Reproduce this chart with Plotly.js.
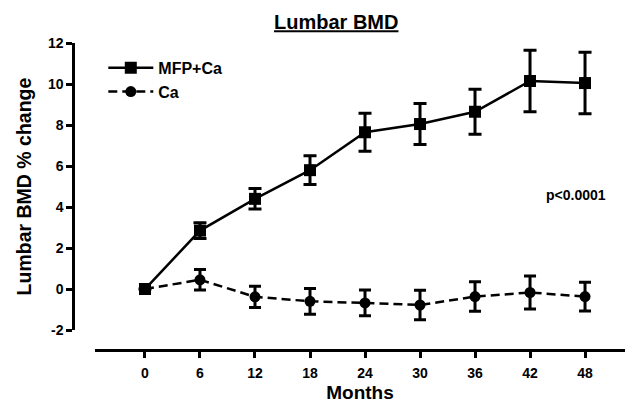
<!DOCTYPE html>
<html>
<head>
<meta charset="utf-8">
<script src="https://cdn.plot.ly/plotly-3.0.1.min.js"></script>
<style>html,body{margin:0;padding:0;background:#fff;}#chart{width:625px;height:405px;}</style>
</head>
<body>
<div id="chart"></div>
<script>
// Data
const months = [0, 6, 12, 18, 24, 30, 36, 42, 48];
const mfpCa = [0, 2.85, 4.4, 5.8, 7.65, 8.05, 8.65, 10.15, 10.05];
const mfpCaErr = [0, 0.38, 0.5, 0.7, 0.93, 1.0, 1.1, 1.5, 1.5];
const ca = [0, 0.45, -0.38, -0.6, -0.68, -0.78, -0.37, -0.17, -0.37];
const caErr = [0, 0.5, 0.52, 0.63, 0.63, 0.72, 0.72, 0.8, 0.7];
const xTicks = [0, 6, 12, 18, 24, 30, 36, 42, 48];
const yTicks = [-2, 0, 2, 4, 6, 8, 10, 12];
const seriesNames = ["MFP+Ca", "Ca"];
const pText = "p<0.0001";

const FONT = "'Liberation Sans', Arial, Helvetica, sans-serif";

const traces = [
  {
    x: months, y: ca, name: seriesNames[1], type: "scatter", mode: "lines+markers",
    line: {color: "#000", width: 2.5, dash: "9px,5px"},
    marker: {symbol: "circle", size: 11, color: "#000"},
    error_y: {type: "data", array: caErr, visible: true, color: "#000", thickness: 3, width: 6},
    legendrank: 2
  },
  {
    x: months, y: mfpCa, name: seriesNames[0], type: "scatter", mode: "lines+markers",
    line: {color: "#000", width: 2.5},
    marker: {symbol: "square", size: 12, color: "#000"},
    error_y: {type: "data", array: mfpCaErr, visible: true, color: "#000", thickness: 3, width: 6.5},
    legendrank: 1
  }
];

const layout = {
  width: 625, height: 405,
  margin: {l: 70, r: 0, t: 40, b: 55},
  paper_bgcolor: "#fff", plot_bgcolor: "#fff",
  font: {family: FONT, color: "#000", size: 14, weight: "bold"},
  title: {
    text: "Lumbar BMD",
    font: {family: FONT, size: 20, weight: "bold", color: "#000", lineposition: "under"},
    xref: "container", x: 0.538, xanchor: "center",
    yref: "container", y: 0.945, yanchor: "middle"
  },
  showlegend: true,
  legend: {
    x: 0.06, xanchor: "left", y: 0.965, yanchor: "top",
    itemwidth: 45,
    font: {family: FONT, size: 16, weight: "bold", color: "#000"},
    bgcolor: "rgba(0,0,0,0)", tracegroupgap: 0
  },
  xaxis: {
    domain: [0.045, 1],
    range: [-5.455, 52.36],
    anchor: "free", position: 0,
    tickmode: "array", tickvals: xTicks, ticktext: xTicks.map(String),
    showline: true, linewidth: 3, linecolor: "#000",
    ticks: "outside", ticklen: 6, tickwidth: 3, tickcolor: "#000",
    ticklabelstandoff: 3,
    showgrid: false, zeroline: false,
    tickfont: {family: FONT, size: 14, weight: "bold"},
    title: {text: "Months", font: {family: FONT, size: 19, weight: "bold"}, standoff: 5}
  },
  yaxis: {
    domain: [0.0645, 0.99],
    range: [-2, 12],
    anchor: "free", position: 0.006,
    tickmode: "array", tickvals: yTicks, ticktext: yTicks.map(String),
    showline: true, linewidth: 3, linecolor: "#000",
    ticks: "outside", ticklen: 6, tickwidth: 3, tickcolor: "#000",
    showgrid: false, zeroline: false,
    tickfont: {family: FONT, size: 14, weight: "bold"},
    title: {text: "Lumbar BMD % change", font: {family: FONT, size: 19.5, weight: "bold"}, standoff: 10}
  },
  annotations: [
    {x: 47, y: 4.6, xref: "x", yref: "y", text: pText, showarrow: false,
     font: {family: FONT, size: 14, weight: "bold", color: "#000"}}
  ]
};

Plotly.newPlot("chart", traces, layout, {displayModeBar: false, staticPlot: true});
</script>
</body>
</html>
